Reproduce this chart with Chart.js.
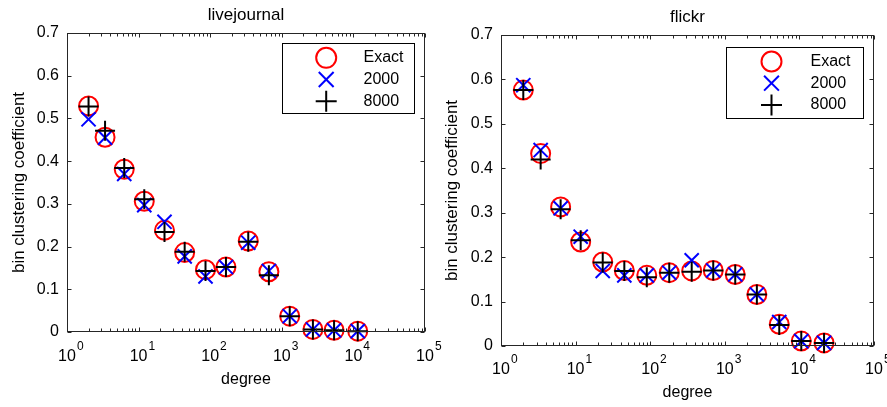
<!DOCTYPE html>
<html lang="en">
<head>
<meta charset="UTF-8" />
<title>bin clustering coefficient</title>
<style>
  body { margin: 0; background: #fff; }
  #wrap { position: relative; width: 887px; height: 407px; overflow: hidden; }
  canvas { position: absolute; top: 0; }
  #left { left: 0; }
  #right { left: 440px; }
</style>
</head>
<body>
<div id="wrap">
  <canvas id="left" width="460" height="407"></canvas>
  <canvas id="right" width="447" height="407"></canvas>
</div>

<script src="https://cdn.jsdelivr.net/npm/chart.js"></script>
<script>
  const FONT = "'Liberation Sans', Arial, Helvetica, sans-serif";

  // legend names and axis ticks
  const seriesNames = ['Exact', '2000', '8000'];
  const yTickValues = [0, 0.1, 0.2, 0.3, 0.4, 0.5, 0.6, 0.7];
  const yTickLabels = ['0', '0.1', '0.2', '0.3', '0.4', '0.5', '0.6', '0.7'];
  const xTickExponents = [0, 1, 2, 3, 4, 5];

  // livejournal panel
  const ljDegree = [2.0, 3.4, 6.3, 12, 23, 44, 86, 166, 340, 660, 1290, 2720, 5370, 11500];
  const ljExact  = [0.529, 0.456, 0.381, 0.306, 0.238, 0.186, 0.146, 0.152, 0.213, 0.141, 0.037, 0.006, 0.004, 0.002];
  const lj2000   = [0.498, 0.455, 0.370, 0.297, 0.258, 0.177, 0.130, 0.152, 0.209, 0.143, 0.037, 0.006, 0.004, 0.002];
  const lj8000   = [0.528, 0.471, 0.384, 0.311, 0.234, 0.188, 0.143, 0.152, 0.211, 0.133, 0.037, 0.006, 0.004, 0.002];

  // flickr panel
  const flDegree = [1.99, 3.4, 6.3, 11.7, 23.1, 45, 90, 180, 360, 700, 1380, 2690, 5370, 10600, 21400];
  const flExact  = [0.576, 0.433, 0.313, 0.234, 0.189, 0.170, 0.159, 0.165, 0.169, 0.170, 0.161, 0.116, 0.049, 0.011, 0.007];
  const fl2000   = [0.587, 0.441, 0.310, 0.246, 0.169, 0.159, 0.159, 0.165, 0.193, 0.170, 0.161, 0.116, 0.054, 0.011, 0.007];
  const fl8000   = [0.576, 0.420, 0.308, 0.238, 0.188, 0.169, 0.155, 0.165, 0.167, 0.170, 0.161, 0.116, 0.047, 0.011, 0.007];

  Chart.defaults.font.family = FONT;
  Chart.defaults.color = '#000';

  function pairs(xs, ys) {
    return xs.map((x, i) => ({ x: x, y: ys[i] }));
  }

  function drawMarker(ctx, style, x, y, r, color, width) {
    ctx.save();
    ctx.strokeStyle = color;
    ctx.lineWidth = width;
    ctx.beginPath();
    if (style === 'circle') {
      ctx.arc(x, y, r, 0, Math.PI * 2);
    } else if (style === 'cross') {
      ctx.moveTo(x - r, y); ctx.lineTo(x + r, y);
      ctx.moveTo(x, y - r); ctx.lineTo(x, y + r);
    } else {
      const d = r * Math.SQRT1_2;
      ctx.moveTo(x - d, y - d); ctx.lineTo(x + d, y + d);
      ctx.moveTo(x - d, y + d); ctx.lineTo(x + d, y - d);
    }
    ctx.stroke();
    ctx.restore();
  }

  // box, inward ticks, 10^n labels and boxed legend, matlab style
  const matlabAxes = {
    id: 'matlabAxes',
    afterDatasetsDraw(chart, args, opts) {
      const ctx = chart.ctx;
      const a = chart.chartArea;
      const xs = chart.scales.x, ys = chart.scales.y;
      const L = Math.round(a.left) + 0.5, R = Math.round(a.right) - 0.5;
      const T = Math.round(a.top) + 0.5, B = Math.round(a.bottom) - 0.5;

      ctx.save();
      ctx.strokeStyle = '#262626';
      ctx.lineWidth = 1;
      ctx.strokeRect(L, T, R - L, B - T);
      ctx.beginPath();
      yTickValues.forEach(v => {
        const y = Math.round(ys.getPixelForValue(v)) + 0.5;
        ctx.moveTo(L, y); ctx.lineTo(L + 4, y);
        ctx.moveTo(R, y); ctx.lineTo(R - 4, y);
      });
      xTickExponents.forEach((e, i) => {
        for (let m = 1; m <= 9; m++) {
          if (m > 1 && i === xTickExponents.length - 1) break;
          const x = Math.round(xs.getPixelForValue(m * Math.pow(10, e))) + 0.5;
          const len = m === 1 ? 4 : 3;
          ctx.moveTo(x, B); ctx.lineTo(x, B - len);
          ctx.moveTo(x, T); ctx.lineTo(x, T + len);
        }
      });
      ctx.stroke();

      // x tick labels with superscript exponent
      ctx.fillStyle = '#000';
      ctx.textBaseline = 'middle';
      xTickExponents.forEach(e => {
        const x = xs.getPixelForValue(Math.pow(10, e));
        const y = a.bottom + opts.labelGap;
        ctx.font = '16px ' + FONT;
        ctx.textAlign = 'center';
        ctx.fillText('10', x, y);
        const w = ctx.measureText('10').width;
        ctx.font = '12px ' + FONT;
        ctx.textAlign = 'left';
        ctx.fillText(String(e), x + w / 2 + 1, y - 10.5);
      });

      // legend
      const lg = opts.legend;
      const bx = Math.round(a.right - lg.right - lg.w) + 0.5;
      const by = Math.round(a.top + lg.top) + 0.5;
      ctx.fillStyle = '#fff';
      ctx.fillRect(bx, by, lg.w, lg.h);
      ctx.strokeStyle = '#000';
      ctx.strokeRect(bx, by, lg.w, lg.h);
      ctx.font = '16px ' + FONT;
      ctx.textAlign = 'left';
      ctx.fillStyle = '#000';
      chart.data.datasets.forEach((ds, i) => {
        const cy = by + lg.rowTop + i * lg.rowGap;
        drawMarker(ctx, ds.pointStyle, bx + lg.markerX, cy, ds.pointRadius + 0.5, ds.borderColor, ds.borderWidth);
        ctx.fillText(ds.label, bx + lg.textX, cy);
      });
      ctx.restore();
    }
  };

  function makeChart(id, title, degree, exact, s2000, s8000, lay) {
    return new Chart(document.getElementById(id), {
      type: 'scatter',
      data: {
        datasets: [
          { label: seriesNames[0], data: pairs(degree, exact), pointStyle: 'circle', pointRadius: 9.5,
            borderColor: '#ff0000', backgroundColor: 'rgba(0,0,0,0)', borderWidth: 2, order: 3, clip: false },
          { label: seriesNames[1], data: pairs(degree, s2000), pointStyle: 'crossRot', pointRadius: 10,
            borderColor: '#0000ff', backgroundColor: 'rgba(0,0,0,0)', borderWidth: 2, order: 2, clip: false },
          { label: seriesNames[2], data: pairs(degree, s8000), pointStyle: 'cross', pointRadius: 10,
            borderColor: '#000000', backgroundColor: 'rgba(0,0,0,0)', borderWidth: 2, order: 1, clip: false }
        ]
      },
      options: {
        responsive: false,
        animation: false,
        events: [],
        layout: { padding: { left: 0, right: lay.padRight, top: 0, bottom: 0 } },
        plugins: {
          legend: { display: false },
          tooltip: { enabled: false },
          title: {
            display: true, text: title, fullSize: false, color: '#000',
            font: { size: 17, weight: 'normal' },
            padding: { top: lay.titleTop, bottom: lay.titleBottom }
          },
          matlabAxes: { labelGap: lay.labelGap, legend: lay.legend }
        },
        scales: {
          x: {
            type: 'logarithmic', min: 1, max: 100000,
            grid: { display: false, drawTicks: false },
            border: { display: false },
            ticks: { display: false },
            title: { display: true, text: 'degree', color: '#000', font: { size: 16 }, padding: { top: 0, bottom: lay.xTitlePad } },
            afterFit: s => { s.height = lay.xAxisH; }
          },
          y: {
            min: 0, max: 0.7,
            afterBuildTicks: s => { s.ticks = yTickValues.map(v => ({ value: v })); },
            ticks: { callback: (v, i) => yTickLabels[i], color: '#000', font: { size: 16 }, padding: 8 },
            grid: { display: false, drawTicks: false },
            border: { display: false },
            title: { display: true, text: 'bin clustering coefficient', color: '#000', font: { size: 17 }, padding: { top: lay.yTitlePad, bottom: 0 } },
            afterFit: s => { s.width = lay.yAxisW; }
          }
        }
      },
      plugins: [matlabAxes]
    });
  }

  makeChart('left', 'livejournal', ljDegree, ljExact, lj2000, lj8000, {
    padRight: 35, titleTop: 4.8, titleBottom: 7.8, xAxisH: 75, xTitlePad: 17.4,
    yAxisW: 67, yTitlePad: 8.8, labelGap: 25,
    legend: { right: 11, top: 10, w: 132, h: 70, rowTop: 14.3, rowGap: 21.7, markerX: 43.7, textX: 81 }
  });

  makeChart('right', 'flickr', flDegree, flExact, fl2000, fl8000, {
    padRight: 13, titleTop: 6.8, titleBottom: 7.8, xAxisH: 61, xTitlePad: 4.4,
    yAxisW: 61, yTitlePad: 1.8, labelGap: 24,
    legend: { right: 11, top: 12, w: 137, h: 71, rowTop: 14, rowGap: 21.7, markerX: 45, textX: 84 }
  });
</script>
</body>
</html>
